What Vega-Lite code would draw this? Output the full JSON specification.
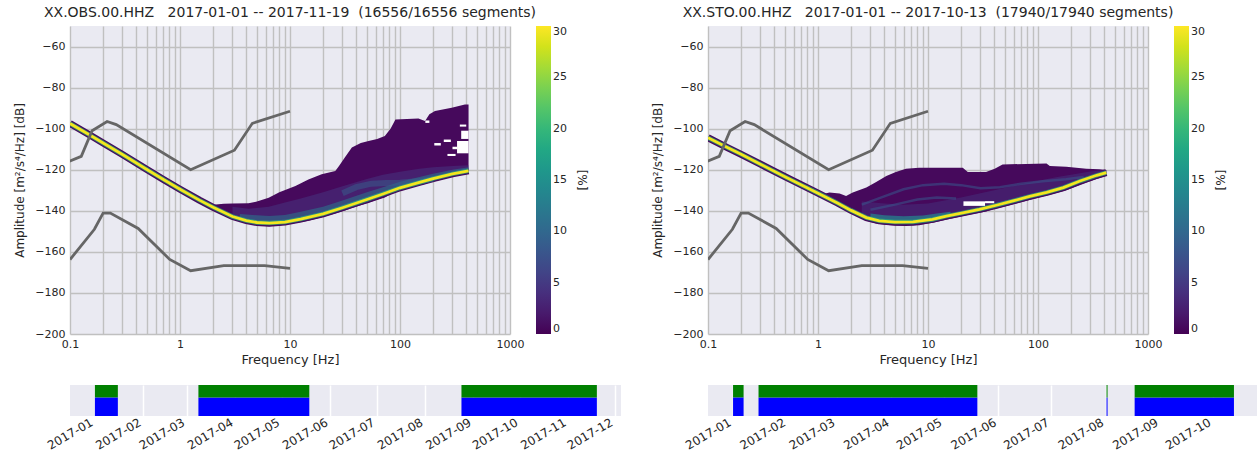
{
  "$schema": "https://vega.github.io/schema/vega-lite/v6.json",
  "background": "white",
  "padding": {"left": 13, "top": 6, "right": 0, "bottom": 0},
  "config": {
    "font": "DejaVu Sans",
    "view": {"fill": "#eaeaf2", "stroke": null},
    "axis": {
      "labelColor": "#262626", "titleColor": "#262626",
      "labelFont": "DejaVu Sans", "titleFont": "DejaVu Sans",
      "labelFontSize": 11, "titleFontSize": 13, "titleFontWeight": "normal",
      "domain": false, "ticks": false,
      "gridColor": "#c0c0c0", "gridWidth": 1.4, "gridOpacity": 1,
      "labelFlush": false, "labelOverlap": false, "labelBound": false
    },
    "legend": {
      "orient": "right", "offset": 25.5, "padding": 0,
      "gradientLength": 308, "gradientThickness": 15, "gradientStrokeWidth": 0,
      "labelFontSize": 11, "labelColor": "#262626", "labelOffset": 8, "labelOverlap": false, "labelBaseline": "middle",
      "titleOrient": "right", "titleAngle": 270, "titleAnchor": "middle",
      "titleFontSize": 12, "titleFontWeight": "normal", "titleColor": "#262626", "titlePadding": 8
    },
    "title": {"fontSize": 14, "fontWeight": "normal", "color": "#262626", "offset": 6, "font": "DejaVu Sans"}
  },
  "datasets": {
    "noise": [
      {"model": "NHNM", "f": 0.0649, "db": -120.0},
      {"model": "NHNM", "f": 0.1266, "db": -113.5},
      {"model": "NHNM", "f": 0.1587, "db": -101.0},
      {"model": "NHNM", "f": 0.2174, "db": -96.5},
      {"model": "NHNM", "f": 0.2632, "db": -98.0},
      {"model": "NHNM", "f": 1.25, "db": -120.0},
      {"model": "NHNM", "f": 3.125, "db": -110.5},
      {"model": "NHNM", "f": 4.545, "db": -97.4},
      {"model": "NHNM", "f": 10, "db": -91.5},
      {"model": "NLNM", "f": 0.1, "db": -163.75},
      {"model": "NLNM", "f": 0.1667, "db": -149.0},
      {"model": "NLNM", "f": 0.2, "db": -141.1},
      {"model": "NLNM", "f": 0.2326, "db": -141.1},
      {"model": "NLNM", "f": 0.4167, "db": -148.6},
      {"model": "NLNM", "f": 0.8065, "db": -163.7},
      {"model": "NLNM", "f": 1.25, "db": -169.2},
      {"model": "NLNM", "f": 2.5, "db": -166.7},
      {"model": "NLNM", "f": 5.882, "db": -166.7},
      {"model": "NLNM", "f": 10, "db": -168.0}
    ],
    "lRidge": [
      {"f": 0.1, "db": -97.5}, {"f": 0.15, "db": -103.0}, {"f": 0.2, "db": -107.0},
      {"f": 0.3, "db": -112.6}, {"f": 0.5, "db": -119.9}, {"f": 0.7, "db": -124.6},
      {"f": 1.0, "db": -129.5}, {"f": 1.5, "db": -134.8}, {"f": 2.0, "db": -138.3},
      {"f": 3.0, "db": -142.8}, {"f": 4.0, "db": -144.8}, {"f": 5.0, "db": -145.7},
      {"f": 6.5, "db": -146.0}, {"f": 9.0, "db": -145.5}, {"f": 12.5, "db": -144.0},
      {"f": 20, "db": -141.5}, {"f": 30, "db": -138.5}, {"f": 50, "db": -134.5},
      {"f": 70, "db": -131.8}, {"f": 100, "db": -128.8}, {"f": 150, "db": -126.2},
      {"f": 200, "db": -124.3}, {"f": 300, "db": -122.0}, {"f": 420, "db": -120.5}
    ],
    "lBody": [
      {"f": 2.0, "db": -137.0, "db2": -139.5, "pct": 0.6}, {"f": 2.5, "db": -136.6, "db2": -141.5, "pct": 0.6},
      {"f": 3.0, "db": -136.5, "db2": -143.8, "pct": 0.6}, {"f": 4.2, "db": -136.3, "db2": -146.2, "pct": 0.6},
      {"f": 5.0, "db": -135.5, "db2": -147.2, "pct": 0.6}, {"f": 6.4, "db": -133.6, "db2": -147.5, "pct": 0.6},
      {"f": 8.0, "db": -131.0, "db2": -147.2, "pct": 0.6}, {"f": 11.2, "db": -127.9, "db2": -146.0, "pct": 0.6},
      {"f": 14.7, "db": -124.7, "db2": -144.8, "pct": 0.6}, {"f": 19.4, "db": -122.2, "db2": -143.2, "pct": 0.6},
      {"f": 25.8, "db": -120.6, "db2": -141.3, "pct": 0.6}, {"f": 28.0, "db": -118.0, "db2": -140.7, "pct": 0.6},
      {"f": 31.5, "db": -114.1, "db2": -139.8, "pct": 0.6}, {"f": 36.5, "db": -109.2, "db2": -138.6, "pct": 0.6},
      {"f": 44.0, "db": -107.0, "db2": -137.3, "pct": 0.6}, {"f": 51.8, "db": -106.0, "db2": -136.2, "pct": 0.6},
      {"f": 62.0, "db": -105.0, "db2": -134.8, "pct": 0.6}, {"f": 72.8, "db": -103.6, "db2": -133.5, "pct": 0.6},
      {"f": 82.0, "db": -100.0, "db2": -132.0, "pct": 0.6}, {"f": 90.9, "db": -95.5, "db2": -131.0, "pct": 0.6},
      {"f": 147, "db": -95.1, "db2": -127.7, "pct": 0.6}, {"f": 169, "db": -96.3, "db2": -126.9, "pct": 0.6},
      {"f": 185, "db": -93.0, "db2": -126.2, "pct": 0.6}, {"f": 208, "db": -91.4, "db2": -125.6, "pct": 0.6},
      {"f": 295, "db": -89.8, "db2": -123.4, "pct": 0.6}, {"f": 389, "db": -88.2, "db2": -122.2, "pct": 0.6},
      {"f": 420, "db": -88.2, "db2": -121.9, "pct": 0.6}
    ],
    "lBandA": [
      {"f": 3.0, "db": -138.0, "db2": -142.8}, {"f": 4.2, "db": -139.0, "db2": -145.0},
      {"f": 6.4, "db": -138.0, "db2": -146.0}, {"f": 9.0, "db": -136.0, "db2": -145.5},
      {"f": 12.5, "db": -134.0, "db2": -144.0}, {"f": 20, "db": -131.0, "db2": -141.5},
      {"f": 30, "db": -128.0, "db2": -138.5}, {"f": 50, "db": -124.5, "db2": -134.5},
      {"f": 70, "db": -122.5, "db2": -131.8}, {"f": 100, "db": -121.0, "db2": -128.8},
      {"f": 150, "db": -119.5, "db2": -126.2}, {"f": 200, "db": -118.8, "db2": -124.3},
      {"f": 300, "db": -118.2, "db2": -122.0}, {"f": 420, "db": -117.8, "db2": -120.5}
    ],
    "lBandB": [
      {"f": 3.5, "db": -141.5, "db2": -143.8}, {"f": 5.0, "db": -142.2, "db2": -145.7},
      {"f": 6.5, "db": -142.5, "db2": -146.0}, {"f": 9.0, "db": -142.0, "db2": -145.5},
      {"f": 12.5, "db": -140.5, "db2": -144.0}, {"f": 20, "db": -138.0, "db2": -141.5},
      {"f": 30, "db": -135.0, "db2": -138.5}, {"f": 50, "db": -131.0, "db2": -134.5},
      {"f": 70, "db": -128.5, "db2": -131.8}, {"f": 100, "db": -125.8, "db2": -128.8},
      {"f": 150, "db": -123.5, "db2": -126.2}, {"f": 200, "db": -122.0, "db2": -124.3},
      {"f": 300, "db": -120.0, "db2": -122.0}, {"f": 420, "db": -118.8, "db2": -120.5}
    ],
    "lArc": [
      {"f": 30, "db": -131.5}, {"f": 40, "db": -128.5}, {"f": 55, "db": -126.8},
      {"f": 75, "db": -126.5}, {"f": 100, "db": -126.3}, {"f": 150, "db": -125.5},
      {"f": 200, "db": -124.5}
    ],
    "lHoles": [
      {"f": 330, "f2": 420, "db": -112.0, "db2": -106.0},
      {"f": 360, "f2": 420, "db": -105.0, "db2": -101.0},
      {"f": 250, "f2": 290, "db": -106.5, "db2": -105.3},
      {"f": 205, "f2": 235, "db": -108.2, "db2": -107.0},
      {"f": 270, "f2": 320, "db": -113.3, "db2": -112.3},
      {"f": 300, "f2": 330, "db": -110.0, "db2": -108.8},
      {"f": 170, "f2": 185, "db": -97.2, "db2": -96.0},
      {"f": 350, "f2": 400, "db": -99.0, "db2": -98.0}
    ],
    "rRidge": [
      {"f": 0.1, "db": -104.4}, {"f": 0.15, "db": -109.2}, {"f": 0.2, "db": -112.5},
      {"f": 0.3, "db": -117.3}, {"f": 0.5, "db": -123.4}, {"f": 0.7, "db": -127.3},
      {"f": 1.0, "db": -131.4}, {"f": 1.5, "db": -136.2}, {"f": 2.0, "db": -139.8},
      {"f": 2.75, "db": -143.3}, {"f": 3.6, "db": -144.9}, {"f": 5.0, "db": -145.5},
      {"f": 7.3, "db": -145.4}, {"f": 11, "db": -144.2}, {"f": 14.7, "db": -142.6},
      {"f": 20.7, "db": -141.0}, {"f": 29.4, "db": -139.3}, {"f": 41.8, "db": -137.3},
      {"f": 59.3, "db": -135.2}, {"f": 84, "db": -133.0}, {"f": 120, "db": -131.0},
      {"f": 170, "db": -128.7}, {"f": 241, "db": -125.5}, {"f": 342, "db": -122.7},
      {"f": 418, "db": -121.4}
    ],
    "rBody": [
      {"f": 1.1, "db": -132.0, "db2": -133.8, "pct": 0.6}, {"f": 1.27, "db": -131.1, "db2": -135.6, "pct": 0.6},
      {"f": 1.57, "db": -131.6, "db2": -137.8, "pct": 0.6}, {"f": 1.8, "db": -132.8, "db2": -139.0, "pct": 0.6},
      {"f": 2.07, "db": -131.1, "db2": -141.0, "pct": 0.6}, {"f": 2.75, "db": -128.7, "db2": -144.8, "pct": 0.6},
      {"f": 3.38, "db": -126.0, "db2": -146.2, "pct": 0.6}, {"f": 4.18, "db": -123.0, "db2": -146.9, "pct": 0.6},
      {"f": 5.1, "db": -121.1, "db2": -147.3, "pct": 0.6}, {"f": 6.3, "db": -119.5, "db2": -147.4, "pct": 0.6},
      {"f": 8.3, "db": -119.0, "db2": -147.0, "pct": 0.6}, {"f": 11, "db": -119.0, "db2": -145.8, "pct": 0.6},
      {"f": 20.7, "db": -119.0, "db2": -142.5, "pct": 0.6}, {"f": 23, "db": -121.1, "db2": -142.1, "pct": 0.6},
      {"f": 33.7, "db": -121.1, "db2": -140.3, "pct": 0.6}, {"f": 40.4, "db": -119.5, "db2": -139.0, "pct": 0.6},
      {"f": 47.6, "db": -117.4, "db2": -138.2, "pct": 0.6}, {"f": 119.5, "db": -117.0, "db2": -132.5, "pct": 0.6},
      {"f": 128, "db": -118.2, "db2": -132.2, "pct": 0.6}, {"f": 181, "db": -118.5, "db2": -130.0, "pct": 0.6},
      {"f": 275, "db": -119.5, "db2": -126.3, "pct": 0.6}, {"f": 362, "db": -119.8, "db2": -124.0, "pct": 0.6},
      {"f": 418, "db": -120.1, "db2": -122.9, "pct": 0.6}
    ],
    "rBandA": [
      {"f": 2.5, "db": -135.5, "db2": -142.8}, {"f": 4, "db": -136.5, "db2": -145.0},
      {"f": 6, "db": -137.0, "db2": -145.5}, {"f": 10, "db": -136.5, "db2": -144.5},
      {"f": 20, "db": -133.5, "db2": -141.2}, {"f": 40, "db": -130.0, "db2": -137.5},
      {"f": 80, "db": -126.5, "db2": -133.3}, {"f": 150, "db": -123.5, "db2": -129.5},
      {"f": 300, "db": -120.8, "db2": -124.0}, {"f": 418, "db": -120.1, "db2": -121.4}
    ],
    "rBandB": [
      {"f": 3, "db": -141.3, "db2": -144.2}, {"f": 4, "db": -142.2, "db2": -145.2},
      {"f": 6, "db": -142.6, "db2": -145.5}, {"f": 9, "db": -142.3, "db2": -144.9},
      {"f": 12, "db": -141.3, "db2": -144.0}, {"f": 16, "db": -140.5, "db2": -142.3}
    ],
    "rStreak": [
      {"s": "a", "f": 2.5, "db": -137.0}, {"s": "a", "f": 4, "db": -133.0},
      {"s": "a", "f": 6, "db": -129.5}, {"s": "a", "f": 9, "db": -127.5},
      {"s": "a", "f": 14, "db": -126.8}, {"s": "a", "f": 20, "db": -127.5},
      {"s": "a", "f": 30, "db": -129.0}, {"s": "a", "f": 45, "db": -128.5},
      {"s": "a", "f": 70, "db": -126.8}, {"s": "a", "f": 110, "db": -125.6},
      {"s": "a", "f": 180, "db": -124.6}, {"s": "a", "f": 260, "db": -123.5},
      {"s": "b", "f": 3, "db": -139.5}, {"s": "b", "f": 5, "db": -137.0},
      {"s": "b", "f": 8, "db": -134.5}, {"s": "b", "f": 12, "db": -133.5},
      {"s": "b", "f": 18, "db": -134.0}
    ],
    "rHoles": [
      {"f": 21, "f2": 33, "db": -137.6, "db2": -135.4},
      {"f": 33, "f2": 40, "db": -136.3, "db2": -135.3}
    ],
    "covL": [
      {"start": "2017-01-01T00:00:00Z", "end": "2017-01-15T18:00:00Z"},
      {"start": "2017-03-08T12:00:00Z", "end": "2017-05-18T18:00:00Z"},
      {"start": "2017-08-24T12:00:00Z", "end": "2017-11-19T12:00:00Z"}
    ],
    "covR": [
      {"start": "2017-01-01T00:00:00Z", "end": "2017-01-07T00:00:00Z"},
      {"start": "2017-01-15T12:00:00Z", "end": "2017-05-20T00:00:00Z"},
      {"start": "2017-08-01T12:00:00Z", "end": "2017-08-02T02:00:00Z"},
      {"start": "2017-08-17T12:00:00Z", "end": "2017-10-13T00:00:00Z"}
    ]
  },
  "columns": 2,
  "spacing": {"row": 51, "column": 87},
  "bounds": "flush",
  "resolve": {"scale": {"color": "independent"}, "legend": {"color": "independent"}},
  "concat": [
    {
      "title": {"text": "XX.OBS.00.HHZ\u00a0\u00a0\u00a02017-01-01 -- 2017-11-19\u00a0\u00a0(16556/16556 segments)"},
      "width": 440, "height": 308,
      "layer": [
        {
          "data": {"name": "lBody"},
          "mark": {"type": "area", "clip": true},
          "encoding": {
            "x": {"field": "f", "type": "quantitative", "scale": {"type": "log", "domain": [0.1, 1000], "nice": false},
              "axis": {"title": "Frequency [Hz]", "grid": true,
                "values": [0.1,0.2,0.3,0.4,0.5,0.6,0.7,0.8,0.9,1,2,3,4,5,6,7,8,9,10,20,30,40,50,60,70,80,90,100,200,300,400,500,600,700,800,900,1000],
                "labelExpr": "indexof([0.1,1,10,100,1000], datum.value) >= 0 ? format(datum.value, '~g') : ''",
                "labelPadding": 4, "titlePadding": 4}},
            "y": {"field": "db", "type": "quantitative", "scale": {"domain": [-200, -50], "nice": false, "zero": false},
              "axis": {"title": "Amplitude [m²/s⁴/Hz] [dB]", "titleFontSize": 12, "grid": true,
                "values": [-200,-180,-160,-140,-120,-100,-80,-60], "labelPadding": 5, "titlePadding": 8}},
            "y2": {"field": "db2"},
            "color": {"field": "pct", "type": "quantitative", "title": "[%]",
              "scale": {"type": "linear", "scheme": "viridis", "domain": [0, 30]},
              "legend": {"type": "gradient", "values": [0, 5, 10, 15, 20, 25, 30]}}
          }
        },
        {
          "data": {"name": "lRidge"},
          "mark": {"type": "line", "strokeWidth": 7, "clip": true, "color": "#450a5c"},
          "encoding": {"x": {"field": "f", "type": "quantitative"}, "y": {"field": "db", "type": "quantitative"}}
        },
        {
          "data": {"name": "lBandA"},
          "mark": {"type": "area", "opacity": 0.5, "clip": true, "color": "#453781"},
          "encoding": {"x": {"field": "f", "type": "quantitative"}, "y": {"field": "db", "type": "quantitative"}, "y2": {"field": "db2"}}
        },
        {
          "data": {"name": "lBandB"},
          "mark": {"type": "area", "opacity": 0.55, "clip": true, "color": "#2a788e"},
          "encoding": {"x": {"field": "f", "type": "quantitative"}, "y": {"field": "db", "type": "quantitative"}, "y2": {"field": "db2"}}
        },
        {
          "data": {"name": "lArc"},
          "mark": {"type": "line", "strokeWidth": 6, "opacity": 0.5, "clip": true, "color": "#355f8d"},
          "encoding": {"x": {"field": "f", "type": "quantitative"}, "y": {"field": "db", "type": "quantitative"}}
        },
        {
          "data": {"name": "lRidge"},
          "mark": {"type": "line", "strokeWidth": 4.5, "opacity": 0.7, "clip": true, "color": "#2ab07f"},
          "encoding": {"x": {"field": "f", "type": "quantitative"}, "y": {"field": "db", "type": "quantitative"}}
        },
        {
          "data": {"name": "lRidge"},
          "mark": {"type": "line", "strokeWidth": 2.8, "clip": true, "color": "#f4e61e"},
          "encoding": {"x": {"field": "f", "type": "quantitative"}, "y": {"field": "db", "type": "quantitative"}}
        },
        {
          "data": {"name": "lHoles"},
          "mark": {"type": "rect", "color": "#ffffff", "clip": true},
          "encoding": {"x": {"field": "f", "type": "quantitative"}, "x2": {"field": "f2"},
            "y": {"field": "db", "type": "quantitative"}, "y2": {"field": "db2"}}
        },
        {
          "data": {"name": "noise"},
          "mark": {"type": "line", "color": "#666666", "strokeWidth": 2.8, "clip": true},
          "encoding": {"x": {"field": "f", "type": "quantitative"}, "y": {"field": "db", "type": "quantitative"},
            "detail": {"field": "model"}}
        }
      ]
    },
    {
      "title": {"text": "XX.STO.00.HHZ\u00a0\u00a0\u00a02017-01-01 -- 2017-10-13\u00a0\u00a0(17940/17940 segments)"},
      "width": 440, "height": 308,
      "layer": [
        {
          "data": {"name": "rBody"},
          "mark": {"type": "area", "clip": true},
          "encoding": {
            "x": {"field": "f", "type": "quantitative", "scale": {"type": "log", "domain": [0.1, 1000], "nice": false},
              "axis": {"title": "Frequency [Hz]", "grid": true,
                "values": [0.1,0.2,0.3,0.4,0.5,0.6,0.7,0.8,0.9,1,2,3,4,5,6,7,8,9,10,20,30,40,50,60,70,80,90,100,200,300,400,500,600,700,800,900,1000],
                "labelExpr": "indexof([0.1,1,10,100,1000], datum.value) >= 0 ? format(datum.value, '~g') : ''",
                "labelPadding": 4, "titlePadding": 4}},
            "y": {"field": "db", "type": "quantitative", "scale": {"domain": [-200, -50], "nice": false, "zero": false},
              "axis": {"title": "Amplitude [m²/s⁴/Hz] [dB]", "titleFontSize": 12, "grid": true,
                "values": [-200,-180,-160,-140,-120,-100,-80,-60], "labelPadding": 5, "titlePadding": 8}},
            "y2": {"field": "db2"},
            "color": {"field": "pct", "type": "quantitative", "title": "[%]",
              "scale": {"type": "linear", "scheme": "viridis", "domain": [0, 30]},
              "legend": {"type": "gradient", "values": [0, 5, 10, 15, 20, 25, 30]}}
          }
        },
        {
          "data": {"name": "rRidge"},
          "mark": {"type": "line", "strokeWidth": 7, "clip": true, "color": "#450a5c"},
          "encoding": {"x": {"field": "f", "type": "quantitative"}, "y": {"field": "db", "type": "quantitative"}}
        },
        {
          "data": {"name": "rBandA"},
          "mark": {"type": "area", "opacity": 0.45, "clip": true, "color": "#453781"},
          "encoding": {"x": {"field": "f", "type": "quantitative"}, "y": {"field": "db", "type": "quantitative"}, "y2": {"field": "db2"}}
        },
        {
          "data": {"name": "rBandB"},
          "mark": {"type": "area", "opacity": 0.7, "clip": true, "color": "#23888e"},
          "encoding": {"x": {"field": "f", "type": "quantitative"}, "y": {"field": "db", "type": "quantitative"}, "y2": {"field": "db2"}}
        },
        {
          "data": {"name": "rStreak"},
          "mark": {"type": "line", "strokeWidth": 2.5, "opacity": 0.55, "clip": true, "color": "#39568c"},
          "encoding": {"x": {"field": "f", "type": "quantitative"}, "y": {"field": "db", "type": "quantitative"},
            "detail": {"field": "s"}}
        },
        {
          "data": {"name": "rRidge"},
          "mark": {"type": "line", "strokeWidth": 4.5, "opacity": 0.7, "clip": true, "color": "#2ab07f"},
          "encoding": {"x": {"field": "f", "type": "quantitative"}, "y": {"field": "db", "type": "quantitative"}}
        },
        {
          "data": {"name": "rRidge"},
          "mark": {"type": "line", "strokeWidth": 2.8, "clip": true, "color": "#f4e61e"},
          "encoding": {"x": {"field": "f", "type": "quantitative"}, "y": {"field": "db", "type": "quantitative"}}
        },
        {
          "data": {"name": "rHoles"},
          "mark": {"type": "rect", "color": "#ffffff", "clip": true},
          "encoding": {"x": {"field": "f", "type": "quantitative"}, "x2": {"field": "f2"},
            "y": {"field": "db", "type": "quantitative"}, "y2": {"field": "db2"}}
        },
        {
          "data": {"name": "noise"},
          "mark": {"type": "line", "color": "#666666", "strokeWidth": 2.8, "clip": true},
          "encoding": {"x": {"field": "f", "type": "quantitative"}, "y": {"field": "db", "type": "quantitative"},
            "detail": {"field": "model"}}
        }
      ]
    },
    {
      "width": 551, "height": 31,
      "data": {"name": "covL"},
      "encoding": {
        "x": {"field": "start", "type": "temporal",
          "scale": {"type": "utc", "domain": [{"year": 2016, "month": 12, "date": 16, "utc": true}, {"year": 2017, "month": 12, "date": 5, "utc": true}]},
          "axis": {"title": null, "grid": true, "gridColor": "#ffffff", "gridWidth": 1.5, "format": "%Y-%m",
            "values": [
              {"year": 2017, "month": 1, "date": 1, "utc": true}, {"year": 2017, "month": 2, "date": 1, "utc": true},
              {"year": 2017, "month": 3, "date": 1, "utc": true}, {"year": 2017, "month": 4, "date": 1, "utc": true},
              {"year": 2017, "month": 5, "date": 1, "utc": true}, {"year": 2017, "month": 6, "date": 1, "utc": true},
              {"year": 2017, "month": 7, "date": 1, "utc": true}, {"year": 2017, "month": 8, "date": 1, "utc": true},
              {"year": 2017, "month": 9, "date": 1, "utc": true}, {"year": 2017, "month": 10, "date": 1, "utc": true},
              {"year": 2017, "month": 11, "date": 1, "utc": true}, {"year": 2017, "month": 12, "date": 1, "utc": true}
            ],
            "labelFontSize": 12, "labelAngle": -30, "labelAlign": "right", "labelBaseline": "bottom", "labelPadding": 11, "labelDx": -4}},
        "x2": {"field": "end"}
      },
      "layer": [
        {"mark": {"type": "rect", "color": "#0000ff"},
          "encoding": {"y": {"datum": 0, "type": "quantitative", "scale": {"domain": [0, 1], "nice": false}, "axis": null}, "y2": {"datum": 0.6}}},
        {"mark": {"type": "rect", "color": "#008000"},
          "encoding": {"y": {"datum": 0.6, "type": "quantitative"}, "y2": {"datum": 1}}}
      ]
    },
    {
      "width": 551, "height": 31,
      "data": {"name": "covR"},
      "encoding": {
        "x": {"field": "start", "type": "temporal",
          "scale": {"type": "utc", "domain": [{"year": 2016, "month": 12, "date": 17, "hours": 18, "utc": true}, {"year": 2017, "month": 10, "date": 27, "hours": 6, "utc": true}]},
          "axis": {"title": null, "grid": true, "gridColor": "#ffffff", "gridWidth": 1.5, "format": "%Y-%m",
            "values": [
              {"year": 2017, "month": 1, "date": 1, "utc": true}, {"year": 2017, "month": 2, "date": 1, "utc": true},
              {"year": 2017, "month": 3, "date": 1, "utc": true}, {"year": 2017, "month": 4, "date": 1, "utc": true},
              {"year": 2017, "month": 5, "date": 1, "utc": true}, {"year": 2017, "month": 6, "date": 1, "utc": true},
              {"year": 2017, "month": 7, "date": 1, "utc": true}, {"year": 2017, "month": 8, "date": 1, "utc": true},
              {"year": 2017, "month": 9, "date": 1, "utc": true}, {"year": 2017, "month": 10, "date": 1, "utc": true}
            ],
            "labelFontSize": 12, "labelAngle": -30, "labelAlign": "right", "labelBaseline": "bottom", "labelPadding": 11, "labelDx": -4}},
        "x2": {"field": "end"}
      },
      "layer": [
        {"mark": {"type": "rect", "color": "#0000ff"},
          "encoding": {"y": {"datum": 0, "type": "quantitative", "scale": {"domain": [0, 1], "nice": false}, "axis": null}, "y2": {"datum": 0.6}}},
        {"mark": {"type": "rect", "color": "#008000"},
          "encoding": {"y": {"datum": 0.6, "type": "quantitative"}, "y2": {"datum": 1}}}
      ]
    }
  ]
}
